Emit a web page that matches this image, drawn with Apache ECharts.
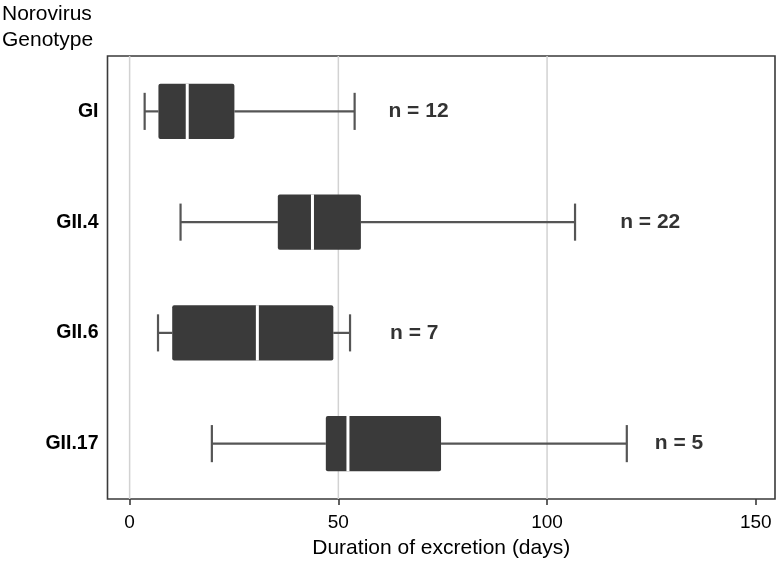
<!DOCTYPE html>
<html>
<head>
<meta charset="utf-8">
<script src="https://cdn.jsdelivr.net/npm/echarts@6/dist/echarts.min.js"></script>
<style>
html,body{margin:0;padding:0;background:#fff;}
#chart{width:780px;height:566px;}
</style>
</head>
<body>
<div id="chart"></div>
<script>
const categories = ['GI', 'GII.4', 'GII.6', 'GII.17'];
const whiskerLow = [3.6, 12.2, 6.8, 19.7];
const quartile1 = [6.9, 35.5, 10.2, 47.0];
const medians = [13.8, 43.8, 30.6, 52.3];
const quartile3 = [25.1, 55.4, 48.8, 74.6];
const whiskerHigh = [53.9, 106.7, 52.8, 119.1];
const sampleSizes = [12, 22, 7, 5];
const sampleLabelX = [62.0, 117.5, 62.4, 125.8];
const xTicks = [0, 50, 100, 150];
const gridLineValues = [0, 50, 100];

const FONT = 'Liberation Sans, Arial, sans-serif';

const boxData = categories.map((c, i) => [i, whiskerLow[i], quartile1[i], medians[i], quartile3[i], whiskerHigh[i]]);
const labelData = categories.map((c, i) => [sampleLabelX[i], i, sampleSizes[i]]);
const gridData = gridLineValues.map(v => [v]);

const chart = echarts.init(document.getElementById('chart'), null, {renderer: 'canvas'});

chart.setOption({
  animation: false,
  backgroundColor: '#ffffff',
  title: {
    text: 'Norovirus\nGenotype',
    left: -3,
    top: -4,
    textStyle: {fontFamily: FONT, fontSize: 21, fontWeight: 'normal', color: '#000', lineHeight: 26}
  },
  grid: {
    left: 107.5, right: 5, top: 56, bottom: 67,
    show: true, borderColor: '#3a3a3a', borderWidth: 1.6, backgroundColor: 'transparent'
  },
  xAxis: {
    type: 'value',
    min: -5.3,
    max: 154.6,
    name: 'Duration of excretion (days)',
    nameLocation: 'middle',
    nameGap: 39,
    nameTextStyle: {fontFamily: FONT, fontSize: 21, color: '#000'},
    axisLine: {show: false},
    axisTick: {show: true, customValues: xTicks, length: 6, lineStyle: {color: '#3a3a3a', width: 1.6}},
    axisLabel: {customValues: xTicks, fontFamily: FONT, fontSize: 19, color: '#000', margin: 14},
    splitLine: {show: false}
  },
  yAxis: {
    type: 'category',
    data: categories,
    inverse: true,
    axisLine: {show: false},
    axisTick: {show: false},
    axisLabel: {fontFamily: FONT, fontSize: 19.5, fontWeight: 'bold', color: '#000', margin: 9},
    splitLine: {show: false}
  },
  series: [
    {
      type: 'custom',
      name: 'grid',
      z: 1,
      silent: true,
      data: gridData,
      encode: {x: 0},
      renderItem: function (params, api) {
        const x = api.coord([api.value(0), 0])[0];
        const cs = params.coordSys;
        return {
          type: 'line',
          shape: {x1: x, y1: cs.y, x2: x, y2: cs.y + cs.height},
          style: {stroke: '#d2d2d2', lineWidth: 1.5}
        };
      }
    },
    {
      type: 'custom',
      name: 'box',
      z: 3,
      data: boxData,
      encode: {y: 0, x: [1, 2, 3, 4, 5]},
      renderItem: function (params, api) {
        const cat = api.value(0);
        const lo = api.coord([api.value(1), cat]);
        const q1p = api.coord([api.value(2), cat]);
        const md = api.coord([api.value(3), cat]);
        const q3p = api.coord([api.value(4), cat]);
        const hi = api.coord([api.value(5), cat]);
        const band = api.size([0, 1])[1];
        const boxH = band * 0.5;
        const capH = band * 0.335;
        const cy = lo[1];
        const wStyle = {stroke: '#555555', lineWidth: 2.2};
        return {
          type: 'group',
          children: [
            {type: 'line', shape: {x1: lo[0], y1: cy, x2: q1p[0], y2: cy}, style: wStyle},
            {type: 'line', shape: {x1: q3p[0], y1: cy, x2: hi[0], y2: cy}, style: wStyle},
            {type: 'line', shape: {x1: lo[0], y1: cy - capH / 2, x2: lo[0], y2: cy + capH / 2}, style: wStyle},
            {type: 'line', shape: {x1: hi[0], y1: cy - capH / 2, x2: hi[0], y2: cy + capH / 2}, style: wStyle},
            {type: 'rect', shape: {x: q1p[0], y: cy - boxH / 2, width: q3p[0] - q1p[0], height: boxH, r: 2}, style: {fill: '#3a3a3a'}},
            {type: 'line', shape: {x1: md[0], y1: cy - boxH / 2, x2: md[0], y2: cy + boxH / 2}, style: {stroke: '#ffffff', lineWidth: 3}}
          ]
        };
      }
    },
    {
      type: 'scatter',
      name: 'n',
      z: 4,
      silent: true,
      symbolSize: 0,
      data: labelData,
      encode: {x: 0, y: 1},
      label: {
        show: true,
        position: 'right',
        distance: 0,
        fontFamily: FONT,
        fontSize: 21,
        fontWeight: 'bold',
        color: '#000',
        formatter: function (p) { return 'n = ' + p.value[2]; }
      }
    }
  ]
});
</script>
</body>
</html>
